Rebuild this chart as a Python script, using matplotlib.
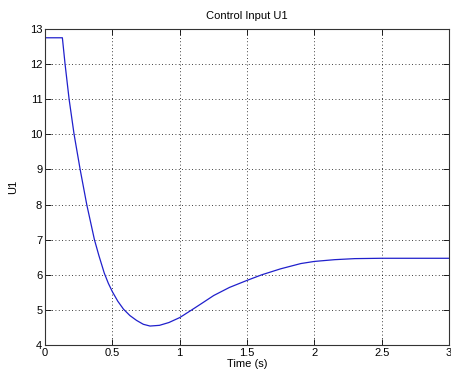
import matplotlib

matplotlib.use("Agg")
import matplotlib.pyplot as plt

# values
time_s = [0.0, 0.129, 0.149, 0.179, 0.216, 0.261, 0.31, 0.367, 0.40, 0.44, 0.47,
          0.5, 0.54, 0.583, 0.63, 0.68, 0.73, 0.78, 0.85, 0.92, 1.0, 1.09, 1.17,
          1.253, 1.37, 1.5, 1.61, 1.75, 1.9, 2.0, 2.15, 2.3, 2.5, 3.0]
u1 = [12.75, 12.75, 12.0, 11.0, 10.0, 9.0, 8.0, 7.0, 6.55, 6.05, 5.76,
      5.52, 5.25, 5.02, 4.84, 4.70, 4.59, 4.54, 4.56, 4.64, 4.78, 5.0, 5.2,
      5.41, 5.64, 5.84, 6.0, 6.17, 6.32, 6.38, 6.43, 6.46, 6.47, 6.47]

x_ticks = [0, 0.5, 1, 1.5, 2, 2.5, 3]
x_labels = ["0", "0.5", "1", "1.5", "2", "2.5", "3"]
y_ticks = [4, 5, 6, 7, 8, 9, 10, 11, 12, 13]

plt.rcParams["font.family"] = ["Liberation Sans", "DejaVu Sans"]

fig = plt.figure(figsize=(4.51, 3.85), dpi=100)
ax = fig.add_axes([45 / 451, 40 / 385, 404 / 451, 316 / 385])

ax.plot(time_s, u1, color="#2020cc", linewidth=0.9)

ax.set_xlim(0, 3)
ax.set_ylim(4, 13)
ax.set_xticks(x_ticks)
ax.set_xticklabels(x_labels)
ax.set_yticks(y_ticks)
ax.tick_params(direction="in", top=True, right=True, labelsize=8, length=4,
               width=0.6, pad=2)
ax.grid(True, color="black", linestyle=(0, (1, 3)), linewidth=0.6)
for spine in ax.spines.values():
    spine.set_linewidth(0.8)
    spine.set_color("#333333")

ax.set_title("Control Input U1", fontsize=8, pad=7)
ax.set_xlabel("Time (s)", fontsize=8, labelpad=1)
ax.set_ylabel("U1", fontsize=8, labelpad=8)

fig.savefig("out.png", dpi=100)
